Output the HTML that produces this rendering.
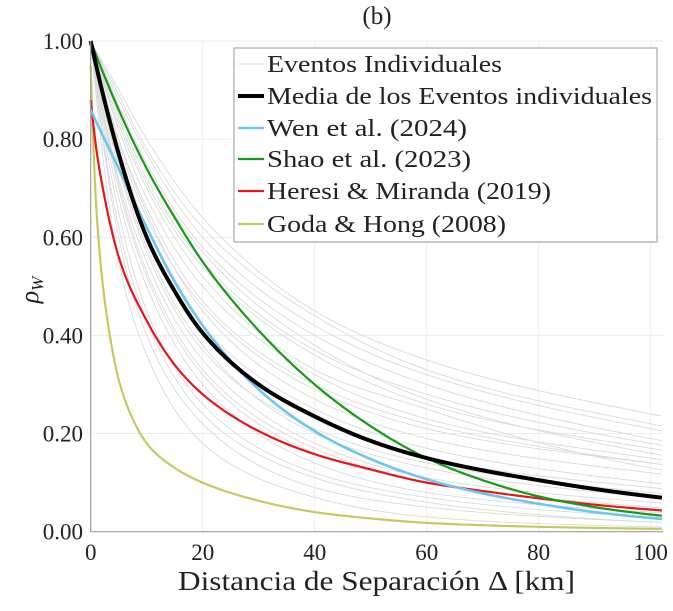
<!DOCTYPE html>
<html><head><meta charset="utf-8"><style>
body{margin:0;background:#fff;}
svg text{font-family:"Liberation Serif",serif;fill:#222;}
</style></head><body>
<svg id="chart" width="673" height="606" viewBox="0 0 673 606" xmlns="http://www.w3.org/2000/svg">
<g id="grid"></g>
<g id="gray"></g>
<g id="main"></g>
<g id="axes"></g>
</svg>
<script>
const xTicks=[0,20,40,60,80,100];
const yTicks=[0,0.2,0.4,0.6,0.8,1.0];
const yTickLabels=["0.00","0.20","0.40","0.60","0.80","1.00"];
const grayDist=[0,5,10,20,40,60,100];
const grayEvents=[
[1,.80,.66,.47,.30,.22,.14],[1,.85,.72,.55,.37,.28,.18],[1,.88,.77,.60,.42,.32,.21],
[1,.90,.80,.64,.45,.35,.24],[1,.75,.58,.38,.20,.13,.07],[1,.70,.52,.32,.16,.10,.05],
[1,.65,.45,.26,.12,.07,.03],[1,.60,.40,.22,.09,.05,.02],[1,.78,.62,.42,.25,.17,.10],
[1,.82,.68,.50,.32,.23,.15],[1,.72,.55,.35,.18,.11,.06],[1,.68,.50,.30,.14,.08,.04],
[1,.86,.74,.57,.38,.27,.16],[1,.80,.65,.45,.27,.19,.12],[1,.74,.57,.37,.21,.14,.08],
[1,.55,.36,.18,.07,.03,.01],[1,.87,.75,.58,.40,.30,.19],[1,.83,.70,.52,.33,.25,.13],
[1,.77,.60,.40,.23,.15,.09],[1,.62,.43,.24,.11,.06,.02],[1,.79,.64,.46,.29,.21,.14],
[1,.84,.71,.54,.36,.26,.17],[1,.71,.53,.33,.17,.10,.05],[1,.89,.78,.62,.44,.33,.22]];
const meanDist=[0,5,10,15,20,30,40,50,60,70,80,90,100];
const meanVals=[1.0,0.77,0.60,0.49,0.405,0.30,0.235,0.185,0.15,0.125,0.105,0.087,0.072];
const wenDist=[0,5,10,15,20,30,40,50,60,70,80,90,100];
const wenVals=[0.86,0.74,0.62,0.51,0.42,0.29,0.205,0.148,0.107,0.078,0.057,0.040,0.028];
const shaoDist=[0,5,10,15,20,30,40,50,60,70,80,90,100];
const shaoVals=[1.0,0.86,0.74,0.64,0.55,0.41,0.30,0.215,0.15,0.105,0.072,0.05,0.035];
const heresiDist=[0,1,2,5,10,15,20,30,40,50,60,70,80,90,100];
const heresiVals=[0.88,0.78,0.71,0.56,0.43,0.34,0.28,0.205,0.158,0.127,0.10,0.083,0.068,0.055,0.045];
const godaDist=[0,0.5,1,2,3,5,7.5,10,15,20,30,40,50,60,80,100];
const godaVals=[0.95,0.78,0.66,0.52,0.43,0.31,0.23,0.18,0.13,0.10,0.063,0.040,0.027,0.018,0.010,0.006];

const X0=90.7,X1=663,XMAX=102.2,Y0=531.7,Y1=41;
const sx=v=>X0+(X1-X0)*v/XMAX;
const sy=v=>Y0-(Y0-Y1)*v;
const NS="http://www.w3.org/2000/svg";
function mk(tag,attrs,parent){const e=document.createElementNS(NS,tag);for(const k in attrs)e.setAttribute(k,attrs[k]);parent.appendChild(e);return e;}

function monotone(xs,ys){
 const n=xs.length,d=[],m=new Array(n);
 for(let i=0;i<n-1;i++)d.push((ys[i+1]-ys[i])/(xs[i+1]-xs[i]));
 m[0]=d[0];m[n-1]=d[n-2];
 for(let i=1;i<n-1;i++){m[i]=(d[i-1]*d[i]<=0)?0:(d[i-1]+d[i])/2;}
 for(let i=0;i<n-1;i++){if(d[i]===0){m[i]=m[i+1]=0;continue;}
  const a=m[i]/d[i],b=m[i+1]/d[i],s=a*a+b*b;if(s>9){const t=3/Math.sqrt(s);m[i]=t*a*d[i];m[i+1]=t*b*d[i];}}
 return x=>{
  if(x>=xs[n-1])return ys[n-1]+d[n-2]*(x-xs[n-1]);
  let i=0;while(x>xs[i+1])i++;
  const h=xs[i+1]-xs[i],t=(x-xs[i])/h,t2=t*t,t3=t2*t;
  return (2*t3-3*t2+1)*ys[i]+(t3-2*t2+t)*h*m[i]+(-2*t3+3*t2)*ys[i+1]+(t3-t2)*h*m[i+1];};
}
function pathFor(xs,ys){
 const f=monotone(xs,ys.map(v=>Math.log(Math.max(v,1e-4))));let p="";
 for(let x=0;x<=XMAX+0.001;x+=0.25){const v=Math.exp(f(x));p+=(p?"L":"M")+sx(x).toFixed(2)+","+sy(v).toFixed(2);}
 return p;
}
const grid=document.getElementById('grid');
xTicks.forEach(t=>{const l=mk('line',{x1:sx(t),x2:sx(t),y1:Y1,y2:Y0,stroke:'#ececec','stroke-width':1},grid);

});
yTicks.forEach(t=>{const l=mk('line',{x1:X0,x2:X1,y1:sy(t),y2:sy(t),stroke:'#ececec','stroke-width':1},grid);

});

const gray=document.getElementById('gray');
grayEvents.forEach(ev=>{const p=mk('path',{d:pathFor(grayDist,ev),fill:'none',stroke:'#dadada','stroke-width':0.9},gray);

});

const main=document.getElementById('main');
const series=[
 [godaDist,godaVals,'#c8c860',2.2,'goda-hong-2008-line'],
 [heresiDist,heresiVals,'#e8161a',2.2,'heresi-miranda-2019-line'],
 [shaoDist,shaoVals,'#169b16',2.2,'shao-2023-line'],
 [wenDist,wenVals,'#6ec6f0',2.6,'wen-2024-line'],
 [meanDist,meanVals,'#000',4,'mean-events-line']];
series.forEach(s=>{const p=mk('path',{d:pathFor(s[0],s[1]),fill:'none',stroke:s[2],'stroke-width':s[3]},main);

});

const ax=document.getElementById('axes');
const al=mk('path',{d:`M${X0},${Y1}L${X0},${Y0}L${X1},${Y0}`,fill:'none',stroke:'#a0a0a0','stroke-width':1.2},ax);


xTicks.forEach(t=>{const e=mk('text',{x:sx(t),y:560,'font-size':23,'text-anchor':'middle'},ax);e.textContent=t;

});
yTicks.forEach((t,i)=>{const e=mk('text',{x:83,y:sy(t)+8,'font-size':23,'text-anchor':'end'},ax);e.textContent=yTickLabels[i];

});
let e=mk('text',{x:377,y:24,'font-size':25,'text-anchor':'middle'},ax);e.textContent="(b)";


e=mk('text',{x:178,y:590,'font-size':27,textLength:397,lengthAdjust:'spacingAndGlyphs'},ax);e.textContent="Distancia de Separación Δ [km]";


e=mk('text',{x:0,y:0,'font-size':26,'font-style':'italic',transform:'translate(38,290) rotate(-90)','text-anchor':'middle'},ax);
e.innerHTML='ρ<tspan font-size="17" dy="5">W</tspan>';



const lg=mk('g',{},ax);


mk('rect',{x:234,y:48,width:423,height:194,fill:'#fff',stroke:'#999','stroke-width':1},lg);
const entries=[['Eventos Individuales','#dadada',1,235],['Media de los Eventos individuales','#000',4,385],['Wen et al. (2024)','#6ec6f0',2.6,200],['Shao et al. (2023)','#169b16',2.2,204],['Heresi & Miranda (2019)','#e8161a',2.2,284],['Goda & Hong (2008)','#c8c860',2.2,239]];
const ly=[64,96,128,159,191,224];
entries.forEach((en,i)=>{
 const l=mk('line',{x1:238,x2:264,y1:ly[i],y2:ly[i],stroke:en[1],'stroke-width':en[2]},lg);
 
 
 const t=mk('text',{x:267,y:ly[i]+8,'font-size':24,textLength:en[3],lengthAdjust:'spacingAndGlyphs'},lg);t.textContent=en[0];
 
 
});
</script>
</body></html>
